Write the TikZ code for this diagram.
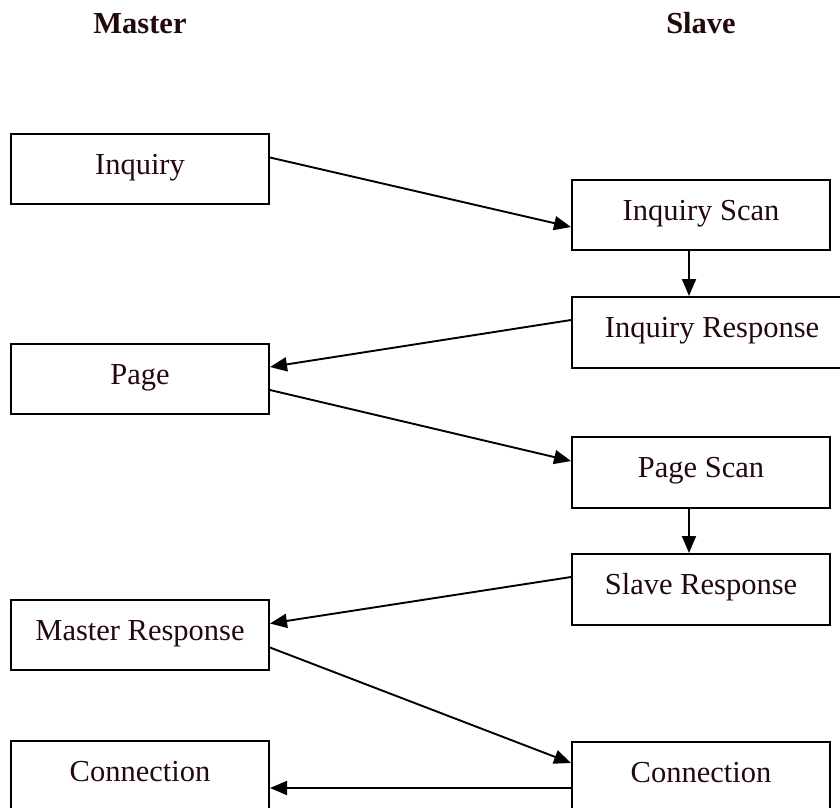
\documentclass[tikz,border=0pt]{standalone}
\usepackage{fontspec}
\setmainfont{Liberation Serif}
\usetikzlibrary{arrows.meta}
\definecolor{inkcol}{RGB}{35,8,12}
\begin{document}
\begin{tikzpicture}[x=1pt,y=-1pt,
  box/.style={draw=black, line width=2pt, rectangle, anchor=north west,
    minimum height=70pt, text height=20pt, text depth=10pt, inner sep=0pt,
    text=inkcol, font=\fontsize{30.5}{36}\selectfont},
  head/.style={anchor=base, text=inkcol, inner sep=0pt,
    font=\fontsize{30.5}{36}\selectfont\bfseries},
  arr/.style={draw=black, line width=1.9pt, -{Triangle[length=17pt,width=14pt]}}]
\useasboundingbox (0,0) rectangle (840,807);

% column headings
\node[head] (hmaster) at (140,33) {Master};
\node[head] (hslave) at (701,33) {Slave};

% master side
\node[box, minimum width=258pt] (inq) at (10,133) {Inquiry};
\node[box, minimum width=258pt] (page) at (10,343) {Page};
\node[box, minimum width=258pt] (mresp) at (10,599) {Master Response};
\node[box, minimum width=258pt] (conl) at (10,740) {Connection};

% slave side
\node[box, minimum width=258pt] (iscan) at (571,179) {Inquiry Scan};
\node[box, minimum width=280pt, minimum height=71pt] (iresp) at (571,296) {Inquiry Response};
\node[box, minimum width=258pt, minimum height=71pt] (pscan) at (571,436) {Page Scan};
\node[box, minimum width=258pt, minimum height=71pt] (sresp) at (571,553) {Slave Response};
\node[box, minimum width=258pt] (conr) at (571,741) {Connection};

% message flow
\draw[arr] ([yshift=11.5pt]inq.east) -- ([yshift=-12pt]iscan.west);
\draw[arr] ([xshift=-12pt]iscan.south) -- ([xshift=-12pt]iscan.south |- iresp.north);
\draw[arr] ([yshift=12.5pt]iresp.west) -- ([yshift=12pt]page.east);
\draw[arr] ([yshift=-11pt]page.east) -- ([yshift=11.5pt]pscan.west);
\draw[arr] ([xshift=-12pt]pscan.south) -- ([xshift=-12pt]pscan.south |- sresp.north);
\draw[arr] ([yshift=12.5pt]sresp.west) -- ([yshift=11.5pt]mresp.east);
\draw[arr] ([yshift=-12.5pt]mresp.east) -- ([yshift=14pt]conr.west);
\draw[arr] ([yshift=-11pt]conr.west) -- ([yshift=-11pt]conr.west -| conl.east);
\end{tikzpicture}
\end{document}
